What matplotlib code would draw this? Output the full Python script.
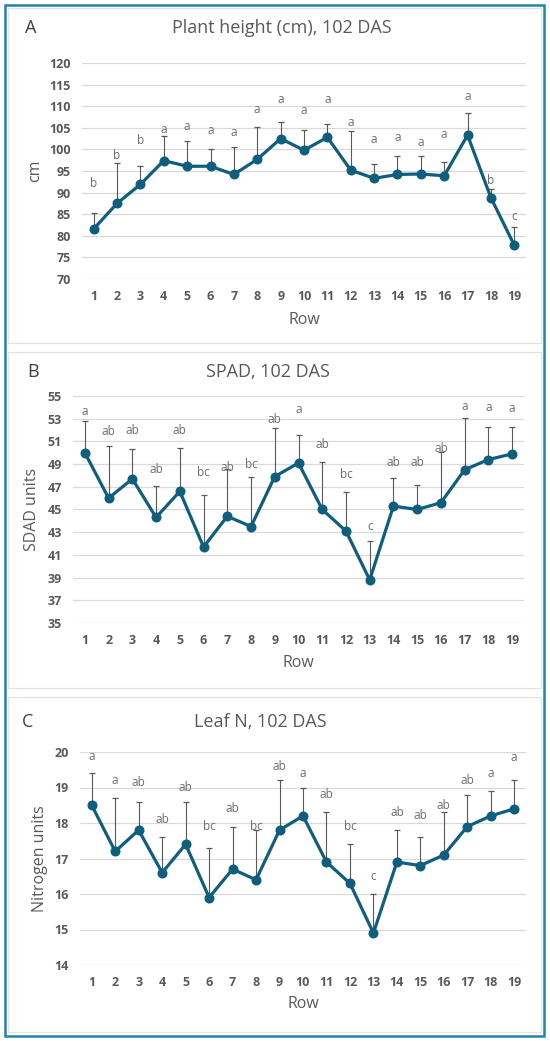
import numpy as np
import matplotlib as mpl
import matplotlib.pyplot as plt
from matplotlib.patches import Rectangle

mpl.rcParams.update({
    "font.family": ["Open Sans", "DejaVu Sans"],
    "xtick.labelsize": 9,
    "ytick.labelsize": 9,
})

rows = list(range(1, 20))

# panel A, plant height (cm)
height_mean = [81.6, 87.5, 91.9, 97.4, 96.1, 96.1, 94.2, 97.7, 102.5, 99.8,
               102.8, 95.2, 93.3, 94.2, 94.3, 93.9, 103.3, 88.8, 77.8]
height_sd = [3.6, 9.3, 4.3, 5.8, 5.9, 4.1, 6.4, 7.6, 3.9, 4.8,
             3.0, 9.0, 3.4, 4.3, 4.2, 3.2, 5.1, 2.0, 4.2]
height_letters = ["b", "b", "b", "a", "a", "a", "a", "a", "a", "a",
                  "a", "a", "a", "a", "a", "a", "a", "b", "c"]
height_letter_y = [92.2, 98.5, 102.0, 104.5, 105.2, 104.3, 103.8, 109.3, 111.6, 108.9,
                   111.6, 106.2, 102.4, 102.7, 101.5, 103.5, 112.2, 92.9, 84.5]

# panel B, SPAD
spad_mean = [50.0, 46.0, 47.7, 44.3, 46.6, 41.7, 44.4, 43.5, 47.9, 49.1,
             45.0, 43.1, 38.8, 45.3, 45.0, 45.6, 48.5, 49.4, 49.9]
spad_sd = [2.8, 4.6, 2.6, 2.8, 3.8, 4.6, 4.2, 4.4, 4.3, 2.5,
           4.2, 3.4, 3.4, 2.5, 2.2, 4.5, 4.6, 2.9, 2.4]
spad_letters = ["a", "ab", "ab", "ab", "ab", "bc", "ab", "bc", "ab", "a",
                "ab", "bc", "c", "ab", "ab", "ab", "a", "a", "a"]
spad_letter_y = [53.6, 51.9, 52.0, 48.5, 52.0, 48.3, 48.7, 49.0, 52.9, 53.8,
                 50.7, 48.1, 43.5, 49.1, 49.1, 50.4, 54.1, 54.0, 53.9]

# panel C, leaf N
leafn_mean = [18.5, 17.2, 17.8, 16.6, 17.4, 15.9, 16.7, 16.4, 17.8, 18.2,
              16.9, 16.3, 14.9, 16.9, 16.8, 17.1, 17.9, 18.2, 18.4]
leafn_sd = [0.9, 1.5, 0.8, 1.0, 1.2, 1.4, 1.2, 1.4, 1.4, 0.8,
            1.4, 1.1, 1.1, 0.9, 0.8, 1.2, 0.9, 0.7, 0.8]
leafn_letters = ["a", "a", "ab", "ab", "ab", "bc", "ab", "bc", "ab", "a",
                 "ab", "bc", "c", "ab", "ab", "ab", "ab", "a", "a"]
leafn_letter_y = [19.86, 19.2, 19.13, 18.1, 19.0, 17.9, 18.4, 17.9, 19.6, 19.4,
                  18.8, 17.9, 16.5, 18.3, 18.2, 18.5, 19.2, 19.4, 19.84]

W, H = 550, 1041
LINE = "#0f5e7e"
GREY = "#595959"

fig = plt.figure(figsize=(W / 100, H / 100), dpi=100)


def px_rect(left, right, top, bottom):
    return [left / W, 1 - bottom / H, (right - left) / W, (bottom - top) / H]


def panel(rect, mean, sd, letters, letter_y, ylim, ystep,
          letter, letter_x, title, title_x, title_y, ylabel, ylabel_x, row_y):
    ax = fig.add_axes(px_rect(*rect))
    x = np.array(rows)
    mean = np.array(mean)
    ax.errorbar(x, mean, yerr=[np.zeros_like(mean), np.array(sd)], fmt="none",
                ecolor=GREY, elinewidth=0.8, capsize=2.5, capthick=0.9, zorder=2)
    ax.plot(x, mean, color=LINE, lw=2.3, marker="o", ms=6.2, zorder=3)
    for xi, lab, ly in zip(x, letters, letter_y):
        ax.text(xi, ly, lab, ha="center", va="center", fontsize=8.5,
                color="#6e6e6e", zorder=4)
    ax.set_xlim(0.5, 19.5)
    ax.set_ylim(*ylim)
    ax.set_yticks(np.arange(ylim[0], ylim[1] + ystep / 2, ystep))
    ax.set_xticks(x)
    ax.grid(axis="y", color="#d9d9d9", lw=0.9)
    ax.set_axisbelow(True)
    for s in ax.spines.values():
        s.set_visible(False)
    ax.tick_params(length=0, colors=GREY, pad=8)
    for t in ax.get_xticklabels() + ax.get_yticklabels():
        t.set_fontweight("bold")
    yc = (rect[2] + rect[3]) / 2
    fig.text(ylabel_x / W, 1 - yc / H, ylabel, rotation=90, ha="center",
             va="center", fontsize=11.5, color=GREY)
    fig.text((rect[0] + rect[1]) / 2 / W, 1 - row_y / H, "Row", ha="center",
             va="center", fontsize=11.5, color=GREY)
    fig.text(title_x / W, 1 - title_y / H, title, ha="center", va="center",
             fontsize=13, color=GREY)
    fig.text(letter_x / W, 1 - title_y / H, letter, ha="center",
             va="center", fontsize=13, color="#404040")
    return ax


panel((82, 526, 63, 279), height_mean, height_sd, height_letters, height_letter_y,
      (70, 120), 5, "A", 31, "Plant height (cm), 102 DAS", 282, 28, "cm", 35, 320)
panel((73, 524, 396, 623), spad_mean, spad_sd, spad_letters, spad_letter_y,
      (35, 55), 2, "B", 33, "SPAD, 102 DAS", 268, 372, "SDAD units", 32, 663)
panel((80, 526, 752, 965), leafn_mean, leafn_sd, leafn_letters, leafn_letter_y,
      (14, 20), 1, "C", 28, "Leaf N, 102 DAS", 260, 722, "Nitrogen units", 40, 1004)

# panel frames and the outer border
for top, bottom in [(8, 343), (352, 688), (697, 1032)]:
    fig.patches.append(Rectangle((8 / W, 1 - bottom / H), 533 / W, (bottom - top) / H,
                                 transform=fig.transFigure, fill=False,
                                 ec="#e3e3e3", lw=0.9))
fig.patches.append(Rectangle((5 / W, 1 - 1036 / H), 539 / W, 1031 / H,
                             transform=fig.transFigure, fill=False,
                             ec="#2384a8", lw=1.8))

fig.savefig("out.png", dpi=100)
